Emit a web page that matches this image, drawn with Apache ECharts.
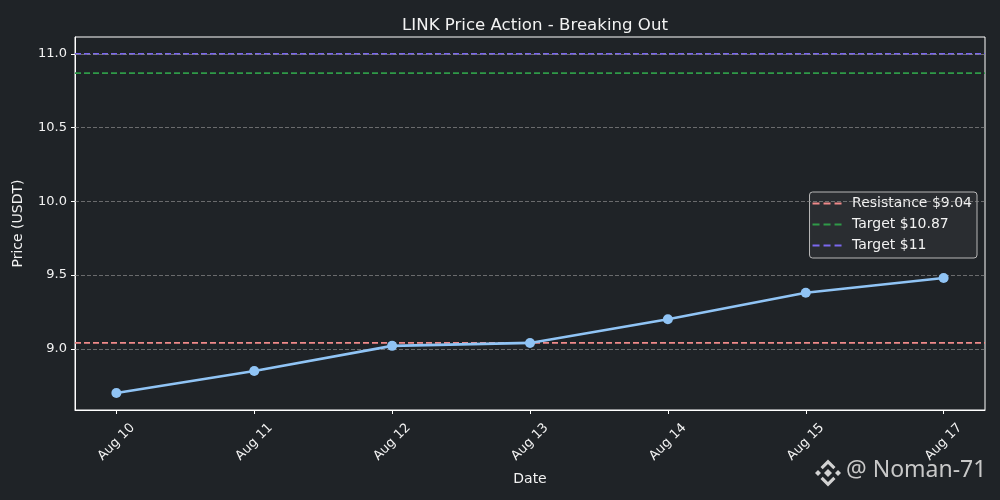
<!DOCTYPE html>
<html>
<head>
<meta charset="utf-8">
<script src="https://cdn.jsdelivr.net/npm/echarts@6/dist/echarts.min.js"></script>
<style>
html,body{margin:0;padding:0;background:#1f2327;}
#main{width:1000px;height:500px;}
</style>
</head>
<body>
<div id="main"></div>
<script>
const dates = ['Aug 10', 'Aug 11', 'Aug 12', 'Aug 13', 'Aug 14', 'Aug 15', 'Aug 17'];
const prices = [8.70, 8.85, 9.02, 9.04, 9.20, 9.38, 9.48];
const levelValues = [9.04, 10.87, 11];
const levelNames = ['Resistance $9.04', 'Target $10.87', 'Target $11'];
const levelColors = ['#f08a8a', '#2f9a48', '#7b68ee'];
const yTicks = [9.0, 9.5, 10.0, 10.5, 11.0];
const xTicks = [0, 1, 2, 3, 4, 5, 6];

const X_MIN = -0.3, X_MAX = 6.3;
const Y_MIN = 8.585, Y_MAX = 11.115;
const FONT = 'DejaVu Sans';
const TXT = '#f2f2f2';
const DASH_ICON = 'path://M0,0H7V2H0Z M11,0H18V2H11Z M22,0H29V2H22Z';

const chart = echarts.init(document.getElementById('main'));

const levelSeries = levelValues.map((v, i) => ({
  name: levelNames[i],
  type: 'line',
  data: [[X_MIN, v], [X_MAX, v]],
  symbol: 'none',
  lineStyle: { color: levelColors[i], width: 1.7, type: [6, 3] },
  itemStyle: { color: levelColors[i] },
  z: 3,
  silent: true,
  animation: false
}));

const logoFill = '#d2d2d2';
const logo = [
  [[0,-4],[4,0],[0,4],[-4,0]],
  [[-10,-3],[-7,0],[-10,3],[-13,0]],
  [[10,-3],[13,0],[10,3],[7,0]],
  [[0,-13.5],[7.5,-6],[5.3,-3.8],[0,-9.1],[-5.3,-3.8],[-7.5,-6]],
  [[0,13.5],[7.5,6],[5.3,3.8],[0,9.1],[-5.3,3.8],[-7.5,6]]
].map(pts => ({ type: 'polygon', shape: { points: pts }, style: { fill: logoFill } }));

const option = {
  backgroundColor: '#1f2327',
  animation: false,
  title: {
    text: 'LINK Price Action - Breaking Out',
    left: 530, top: 12, textAlign: 'center',
    textStyle: { color: TXT, fontFamily: FONT, fontSize: 16.6, fontWeight: 'normal' }
  },
  grid: {
    left: 75, right: 15, top: 37, bottom: 90,
    show: true, borderColor: '#ffffff', borderWidth: 1, backgroundColor: 'transparent'
  },
  legend: {
    orient: 'vertical',
    right: 23, top: 192,
    align: 'left',
    backgroundColor: '#2a2d31',
    borderColor: '#b8b8b8', borderWidth: 1, borderRadius: 3,
    padding: [3, 5, 4, 3],
    itemWidth: 30, itemHeight: 2, itemGap: 4,
    data: levelNames.map((n, i) => ({ name: n, icon: DASH_ICON, itemStyle: { color: levelColors[i] } })),
    textStyle: { color: TXT, fontFamily: FONT, fontSize: 14, padding: [0, 0, 0, 5], lineHeight: 17 }
  },
  xAxis: {
    type: 'value', min: X_MIN, max: X_MAX,
    name: 'Date', nameLocation: 'middle', nameGap: 62,
    nameTextStyle: { color: TXT, fontFamily: FONT, fontSize: 14 },
    axisLine: { show: true, onZero: false, lineStyle: { color: '#ffffff' } },
    axisTick: { show: true, length: 4, customValues: xTicks, lineStyle: { color: '#ffffff' } },
    axisLabel: {
      customValues: xTicks, rotate: 45, margin: 32,
      align: 'center', verticalAlign: 'middle',
      color: TXT, fontFamily: FONT, fontSize: 13,
      formatter: v => dates[Math.round(v)]
    },
    splitLine: { show: false }
  },
  yAxis: {
    type: 'value', min: Y_MIN, max: Y_MAX,
    name: 'Price (USDT)', nameLocation: 'middle', nameGap: 50,
    nameTextStyle: { color: TXT, fontFamily: FONT, fontSize: 14 },
    axisLine: { show: true, onZero: false, lineStyle: { color: '#ffffff' } },
    axisTick: { show: true, length: 4, customValues: yTicks, lineStyle: { color: '#ffffff' } },
    axisLabel: {
      customValues: yTicks, margin: 8,
      color: TXT, fontFamily: FONT, fontSize: 13,
      formatter: v => v.toFixed(1)
    },
    splitLine: { show: false }
  },
  graphic: [
    { type: 'group', x: 828, y: 473, children: logo },
    {
      type: 'text', left: 846, top: 459,
      style: { text: '@ Noman-71', fill: '#c8c8c8', font: '23px "Noto Sans", "DejaVu Sans", sans-serif' }
    }
  ],
  series: [
    {
      name: 'grid',
      type: 'line',
      data: [],
      silent: true,
      z: 1,
      markLine: {
        silent: true, symbol: 'none', animation: false,
        label: { show: false },
        lineStyle: { color: '#888888', type: [4, 2], width: 0.8, opacity: 0.9 },
        data: yTicks.map(v => ({ yAxis: v }))
      }
    },
    ...levelSeries,
    {
      name: 'Price',
      type: 'line',
      data: prices.map((p, i) => [i, p]),
      symbol: 'circle', symbolSize: 10,
      lineStyle: { color: '#90c4f5', width: 2.6 },
      itemStyle: { color: '#90c4f5' },
      z: 5
    }
  ]
};
chart.setOption(option);
</script>
</body>
</html>
